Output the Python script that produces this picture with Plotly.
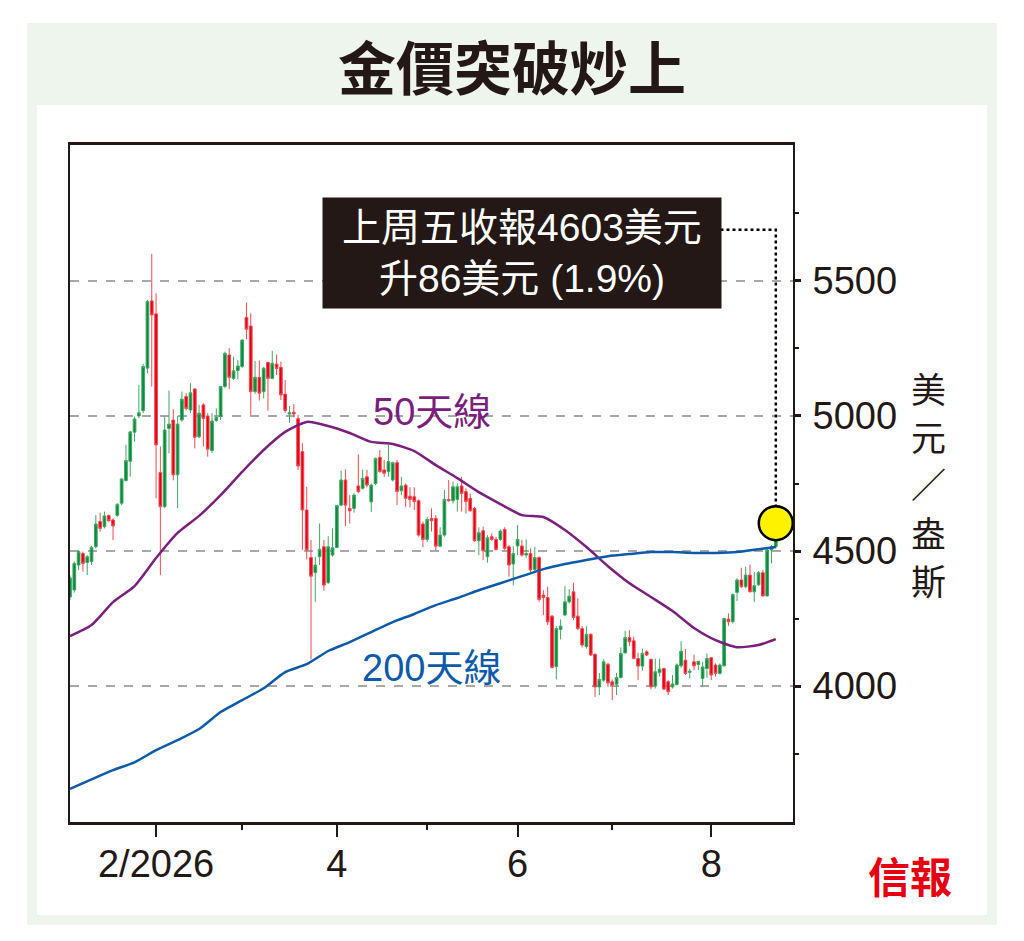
"""Gold price candlestick chart with 50- and 200-day moving averages."""

import pandas as pd
import plotly.graph_objects as go

# trading sessions shown (Good Friday closed)
dates = pd.bdate_range("2026-01-02", "2026-08-21").drop(pd.Timestamp("2026-04-03"))

opens = [
    4330, 4356, 4448, 4491, 4458, 4461, 4516, 4609, 4590, 4632,
    4615, 4632, 4677, 4761, 4832, 4940, 5000, 5020, 5177, 5426,
    5378, 4791, 4664, 4954, 4985, 4782, 4985, 5072, 5022, 5100,
    4923, 5041, 5000, 4872, 4983, 4998, 5109, 5226, 5139, 5168,
    5183, 5365, 5333, 5090, 5143, 5090, 5198, 5139, 5192, 5180,
    5081, 5007, 5014, 4990, 4868, 4652, 4476, 4420, 4479, 4516,
    4383, 4485, 4513, 4670, 4763, 4658, 4658, 4741, 4732, 4775,
    4682, 4750, 4847, 4800, 4794, 4763, 4827, 4723, 4744, 4703,
    4701, 4686, 4600, 4543, 4621, 4621, 4518, 4559, 4691, 4686,
    4691, 4741, 4720, 4695, 4658, 4538, 4575, 4479, 4553, 4543,
    4543, 4580, 4516, 4452, 4519, 4519, 4485, 4491, 4432, 4476,
    4337, 4328, 4259, 4072, 4210, 4263, 4312, 4349, 4259, 4213,
    4146, 4192, 4118, 3997, 4022, 4081, 4016, 4007, 4032, 4123,
    4180, 4168, 4102, 4074, 4127, 4099, 4000, 4050, 4065, 4016,
    3997, 4006, 4075, 4096, 4051, 4090, 4080, 4028, 4065, 4105,
    4078, 4047, 4075, 4248, 4238, 4347, 4393, 4368, 4411, 4349,
    4375, 4420, 4334, 4504, 4516,
]
highs = [
    4410, 4461, 4504, 4498, 4485, 4519, 4633, 4642, 4646, 4634,
    4621, 4677, 4769, 4893, 4945, 4998, 5115, 5193, 5430, 5600,
    5454, 4887, 4998, 5094, 5025, 5000, 5090, 5084, 5121, 5103,
    5041, 5047, 5010, 5010, 5028, 5111, 5238, 5251, 5220, 5207,
    5284, 5420, 5380, 5204, 5205, 5181, 5201, 5241, 5228, 5201,
    5133, 5037, 5044, 5004, 4899, 4738, 4541, 4479, 4602, 4541,
    4555, 4584, 4670, 4797, 4802, 4707, 4714, 4858, 4802, 4800,
    4750, 4846, 4874, 4837, 4893, 4831, 4837, 4775, 4750, 4736,
    4736, 4691, 4609, 4627, 4658, 4633, 4588, 4726, 4763, 4757,
    4750, 4775, 4732, 4713, 4664, 4588, 4590, 4559, 4565, 4553,
    4580, 4588, 4522, 4518, 4596, 4541, 4543, 4510, 4516, 4481,
    4355, 4368, 4263, 4222, 4247, 4370, 4358, 4383, 4325, 4222,
    4222, 4195, 4121, 4049, 4099, 4086, 4025, 4049, 4143, 4205,
    4207, 4183, 4123, 4139, 4133, 4102, 4102, 4102, 4068, 4022,
    4041, 4084, 4166, 4137, 4065, 4117, 4093, 4090, 4121, 4108,
    4084, 4084, 4253, 4269, 4343, 4399, 4438, 4442, 4450, 4423,
    4426, 4430, 4510, 4522, 4633,
]
lows = [
    4320, 4346, 4430, 4424, 4411, 4448, 4510, 4572, 4584, 4609,
    4541, 4627, 4670, 4757, 4775, 4905, 4992, 5010, 5158, 5109,
    4695, 4411, 4660, 4862, 4762, 4658, 4979, 5020, 5010, 4880,
    4917, 4887, 4849, 4862, 4979, 4985, 5102, 5099, 5133, 5136,
    5177, 5284, 5004, 5081, 5057, 5065, 5020, 5136, 5152, 5059,
    5012, 4975, 4995, 4800, 4504, 4469, 4099, 4312, 4448, 4353,
    4378, 4479, 4510, 4666, 4592, 4602, 4642, 4714, 4728, 4736,
    4645, 4744, 4790, 4775, 4775, 4757, 4670, 4707, 4664, 4662,
    4652, 4553, 4514, 4534, 4572, 4504, 4514, 4553, 4683, 4676,
    4646, 4646, 4639, 4646, 4534, 4485, 4467, 4457, 4538, 4501,
    4538, 4504, 4405, 4374, 4485, 4479, 4476, 4423, 4423, 4312,
    4263, 4226, 4065, 4025, 4173, 4259, 4306, 4244, 4207, 4143,
    4139, 4111, 3960, 3967, 4016, 3997, 3948, 3967, 4028, 4121,
    4148, 4099, 4022, 4057, 4111, 3988, 3991, 4035, 3985, 3967,
    3991, 4001, 4068, 4041, 4028, 4059, 4059, 3997, 4031, 4022,
    4035, 4043, 4071, 4223, 4232, 4315, 4364, 4362, 4347, 4312,
    4371, 4331, 4331, 4454, 4510,
]
closes = [
    4400, 4454, 4498, 4454, 4479, 4514, 4600, 4584, 4630, 4612,
    4593, 4673, 4767, 4835, 4941, 4989, 5012, 5183, 5424, 5374,
    4893, 4664, 4948, 4970, 4782, 4970, 5062, 5028, 5086, 4921,
    5010, 4991, 4877, 4981, 4995, 5109, 5232, 5143, 5167, 5185,
    5281, 5321, 5090, 5143, 5084, 5177, 5139, 5195, 5176, 5078,
    5020, 5012, 5007, 4815, 4652, 4504, 4407, 4448, 4506, 4374,
    4516, 4512, 4669, 4763, 4670, 4649, 4707, 4720, 4769, 4744,
    4744, 4843, 4794, 4788, 4831, 4827, 4720, 4741, 4695, 4691,
    4683, 4559, 4543, 4617, 4612, 4518, 4559, 4691, 4686, 4738,
    4738, 4713, 4683, 4649, 4538, 4568, 4501, 4549, 4543, 4506,
    4574, 4510, 4448, 4491, 4543, 4485, 4491, 4430, 4476, 4321,
    4328, 4238, 4069, 4213, 4222, 4312, 4333, 4254, 4213, 4152,
    4192, 4115, 3997, 4025, 4090, 4012, 4004, 4032, 4121, 4180,
    4164, 4102, 4074, 4121, 4115, 3997, 4053, 4063, 3989, 3979,
    4008, 4078, 4129, 4047, 4055, 4075, 4092, 4071, 4102, 4041,
    4047, 4078, 4250, 4238, 4339, 4393, 4368, 4411, 4349, 4372,
    4420, 4334, 4504, 4516, 4603,
]

# moving averages, one reading every 5 sessions + last
ma_dates = list(dates[::5]) + [dates[-1]]
ma50 = [
    4185, 4226, 4311, 4370, 4474, 4567, 4630, 4707, 4793, 4874,
    4941, 4978, 4963, 4937, 4904, 4896, 4870, 4818, 4770, 4718,
    4674, 4633, 4626, 4578, 4515, 4444, 4381, 4330, 4278, 4215,
    4170, 4144, 4152, 4174,
]
ma200 = [
    3620, 3655, 3689, 3718, 3763, 3800, 3841, 3904, 3948, 3992,
    4052, 4081, 4130, 4163, 4200, 4237, 4267, 4300, 4326, 4355,
    4381, 4407, 4433, 4452, 4467, 4481, 4489, 4496, 4496, 4493,
    4493, 4496, 4507, 4515,
]

y_ticks = [4000, 4500, 5000, 5500]
y_minor = [3750, 4250, 4750, 5250, 5750]
# month boundaries (last session of the previous month)
month_ticks = ["2026-01-30", "2026-03-31", "2026-05-29", "2026-07-31"]
month_labels = ["2/2026", "4", "6", "8"]
month_minor = ["2026-02-27", "2026-04-30", "2026-06-30"]

last_close = closes[-1]
note_text = "上周五收報4603美元<br>升86美元 (1.9%)"
unit_chars = ["美", "元", "／", "盎", "斯"]

GREEN, GREEN_WICK = "#0a8a3c", "#3fa863"
RED, RED_WICK = "#e60012", "#ef4a52"
PURPLE = "#7b1f7c"
BLUE = "#0d5aa8"
INK = "#231815"
CJK = "Noto Sans CJK TC"
NUM = "Liberation Sans Narrow, Liberation Sans, Arial, " + CJK

W, H = 1024, 941
PLOT_L, PLOT_R, PLOT_T, PLOT_B = 70, 793, 145, 822


def px(x):
    return (x - PLOT_L) / (PLOT_R - PLOT_L)


def py(y):
    return (PLOT_B - y) / (PLOT_B - PLOT_T)


fig = go.Figure()

# connector from the note down to the highlighted close
fig.add_trace(
    go.Scatter(
        x=[dates[140], dates[-1], dates[-1]],
        y=[5689, 5689, 4670],
        mode="lines",
        line=dict(color="black", width=2.5, dash="dot"),
        hoverinfo="skip",
    )
)
fig.add_trace(
    go.Scatter(
        x=[dates[-1]],
        y=[last_close],
        mode="markers",
        marker=dict(size=34, color="#fff200", line=dict(color="black", width=2.5)),
        hoverinfo="skip",
    )
)
fig.add_trace(
    go.Candlestick(
        x=dates,
        open=opens,
        high=highs,
        low=lows,
        close=closes,
        whiskerwidth=0,
        increasing=dict(line=dict(color=GREEN_WICK, width=1), fillcolor=GREEN),
        decreasing=dict(line=dict(color=RED_WICK, width=1), fillcolor=RED),
        hoverinfo="skip",
    )
)
fig.add_trace(
    go.Scatter(
        x=ma_dates, y=ma50, mode="lines",
        line=dict(color=PURPLE, width=2.5, shape="spline", smoothing=0.6),
        hoverinfo="skip",
    )
)
fig.add_trace(
    go.Scatter(
        x=ma_dates, y=ma200, mode="lines",
        line=dict(color=BLUE, width=2.5, shape="spline", smoothing=0.6),
        hoverinfo="skip",
    )
)

fig.update_layout(
    width=W,
    height=H,
    margin=dict(l=PLOT_L, r=W - PLOT_R, t=PLOT_T, b=H - PLOT_B),
    paper_bgcolor="white",
    plot_bgcolor="white",
    showlegend=False,
    hovermode=False,
    boxgap=0.1,
    font=dict(family=NUM, color=INK),
    shapes=[
        dict(type="rect", xref="paper", yref="paper", layer="below",
             x0=px(27), x1=px(997), y0=py(925), y1=py(23),
             fillcolor="#edf5ec", line=dict(width=0)),
        dict(type="rect", xref="paper", yref="paper", layer="below",
             x0=px(37), x1=px(987), y0=py(915), y1=py(105),
             fillcolor="white", line=dict(width=0)),
    ],
    xaxis=dict(
        type="date",
        range=["2026-01-02", "2026-08-27"],
        rangebreaks=[dict(bounds=["sat", "mon"]), dict(values=["2026-04-03"])],
        rangeslider=dict(visible=False),
        tickmode="array",
        tickvals=month_ticks,
        ticktext=month_labels,
        ticks="outside",
        ticklen=12,
        tickwidth=2,
        tickcolor=INK,
        ticklabelstandoff=-5,
        tickfont=dict(size=38, color=INK, family=NUM),
        minor=dict(tickmode="array", tickvals=month_minor, ticks="outside",
                   ticklen=5, tickwidth=1.5, tickcolor=INK, showgrid=False),
        showgrid=False,
        showline=True,
        linecolor=INK,
        linewidth=2.5,
        mirror=True,
        zeroline=False,
    ),
    yaxis=dict(
        side="right",
        range=[3497, 6003],
        tickmode="array",
        tickvals=y_ticks,
        ticks="outside",
        ticklen=6,
        tickwidth=2.5,
        tickcolor=INK,
        ticklabelstandoff=4,
        tickfont=dict(size=38, color=INK, family=NUM),
        minor=dict(tickmode="array", tickvals=y_minor, ticks="outside",
                   ticklen=4, tickwidth=1.5, tickcolor=INK, showgrid=False),
        showgrid=True,
        gridcolor="#a8a8a8",
        gridwidth=1.5,
        griddash="dash",
        showline=True,
        linecolor=INK,
        linewidth=2,
        mirror=True,
        zeroline=False,
    ),
)

fig.add_annotation(
    x=dates[105], y=5604, xref="x", yref="y",
    text=note_text, showarrow=False,
    width=386, height=98, borderpad=6,
    bgcolor=INK, font=dict(family=NUM, size=39, color="white"),
)
fig.add_annotation(
    x=dates[84], y=5015, xref="x", yref="y", text="50天線", showarrow=False,
    font=dict(family=NUM, size=38, color=PURPLE),
)
fig.add_annotation(
    x=dates[84], y=4067, xref="x", yref="y", text="200天線", showarrow=False,
    font=dict(family=NUM, size=38, color=BLUE),
)
fig.add_annotation(
    x=px(512), y=py(65), xref="paper", yref="paper", text="金價突破炒上",
    xanchor="center", yanchor="middle",
    showarrow=False, font=dict(family=CJK, size=58, color=INK, weight="bold"),
)
# vertical unit label, one character per line
for k, ch in enumerate(unit_chars):
    fig.add_annotation(
        x=px(928), y=py(387 + 48 * k), xref="paper", yref="paper",
        xanchor="center", yanchor="middle",
        text=ch, showarrow=False,
        font=dict(family=CJK, size=35, color=INK),
    )
fig.add_annotation(
    x=px(910), y=py(874), xref="paper", yref="paper", text="信報",
    xanchor="center", yanchor="middle",
    showarrow=False, font=dict(family=CJK, size=42, color="#e50012", weight="bold"),
)

fig.write_html(
    "out.html",
    config={"displayModeBar": False},
    post_script="document.body.style.margin='0';",
)
